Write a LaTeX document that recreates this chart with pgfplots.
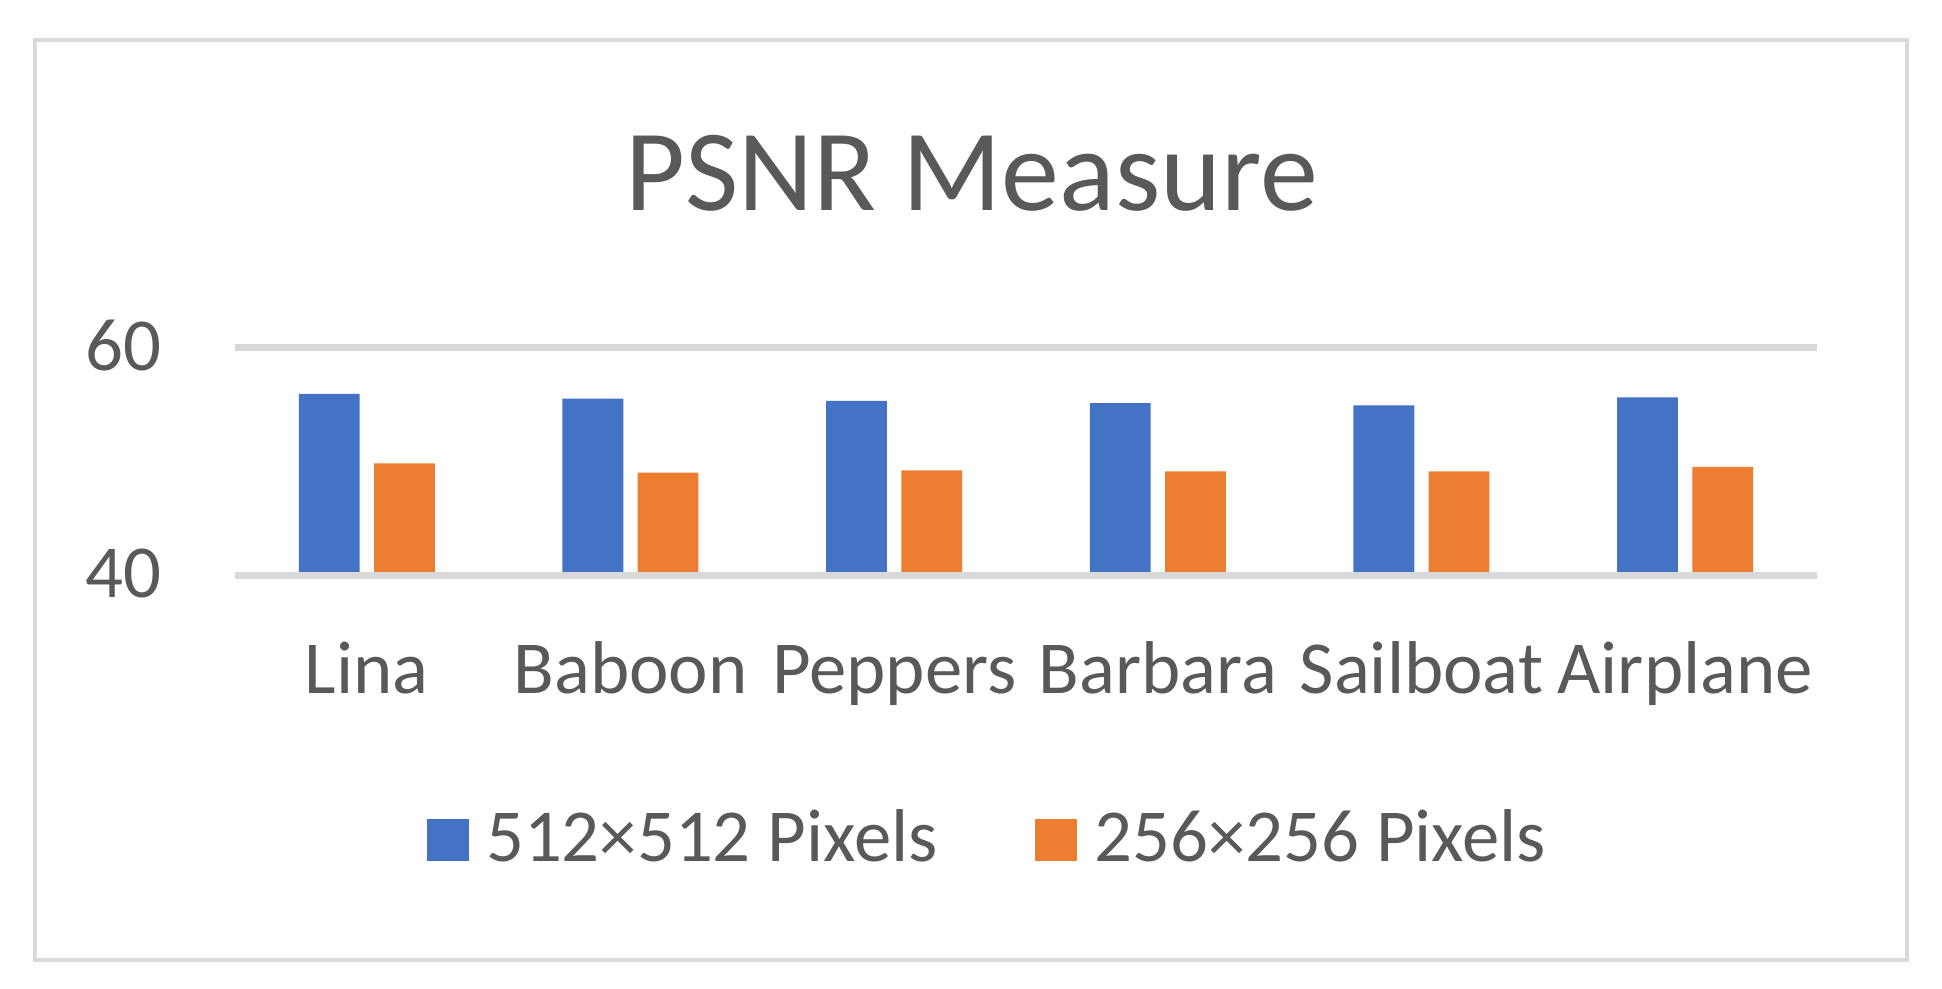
\documentclass[border=0pt]{standalone}
\usepackage{fontspec}
\setmainfont{Carlito}
\usepackage{pgfplots}
\pgfplotsset{compat=1.18}
\definecolor{cblue}{HTML}{4472C4}
\definecolor{corange}{HTML}{ED7D31}
\definecolor{cgrid}{HTML}{D9D9D9}
\definecolor{ctext}{HTML}{595959}
\begin{document}
\begin{tikzpicture}
\path[use as bounding box] (-58.75pt,-103.2pt) rectangle (426.75pt,143.8pt);
\fill[white] (-58.75pt,-103.2pt) rectangle (426.75pt,143.8pt);
\draw[cgrid, line width=1pt] (-50pt,-96.2pt) rectangle (418pt,133.8pt);
\begin{axis}[
  at={(0pt,0pt)}, anchor=south west,
  scale only axis, width=395.5pt, height=57pt,
  xmin=-0.5, xmax=5.5, ymin=40, ymax=60,
  ytick={40,60}, xtick={0,1,2,3,4,5},
  xticklabels={Lina,Baboon,Peppers,Barbara,Sailboat,Airplane},
  axis line style={draw=none}, major tick length=0pt,
  ymajorgrids, grid style={cgrid, line width=1.7pt},
  axis on top,
  /pgf/number format/assume math mode=true,
  ticklabel style={font=\fontsize{18.7}{22}\selectfont, text=ctext, inner sep=0pt},
  yticklabel style={anchor=east, xshift=-18.3pt, yshift=0.4pt},
  xticklabel style={anchor=base, yshift=-29.5pt},
  legend columns=2,
  legend style={at={(axis description cs:0.4775,0)}, anchor=center, yshift=-65.9pt,
    draw=none, fill=none, font=\fontsize{18.7}{22}\selectfont, text=ctext,
    /tikz/every even column/.append style={column sep=22.4pt},
    /tikz/every odd column/.append style={column sep=2.3pt}},
  legend image code/.code={\fill[#1] (0pt,-5.5pt) rectangle (10.5pt,5pt);},
]
\addplot[ybar, fill=cblue, draw=none, bar width=15.2pt, bar shift=-9.4pt]
  coordinates {(0,55.9) (1,55.5) (2,55.3) (3,55.1) (4,54.9) (5,55.6)};
\addplot[ybar, fill=corange, draw=none, bar width=15.2pt, bar shift=9.4pt]
  coordinates {(0,49.8) (1,49.0) (2,49.2) (3,49.1) (4,49.1) (5,49.5)};
\legend{512×512 Pixels, 256×256 Pixels}
\end{axis}
\node[anchor=base, text=ctext, font=\fontsize{29}{35}\selectfont, inner sep=0pt] at (184.15pt,91.15pt) {PSNR Measure};
\end{tikzpicture}
\end{document}
